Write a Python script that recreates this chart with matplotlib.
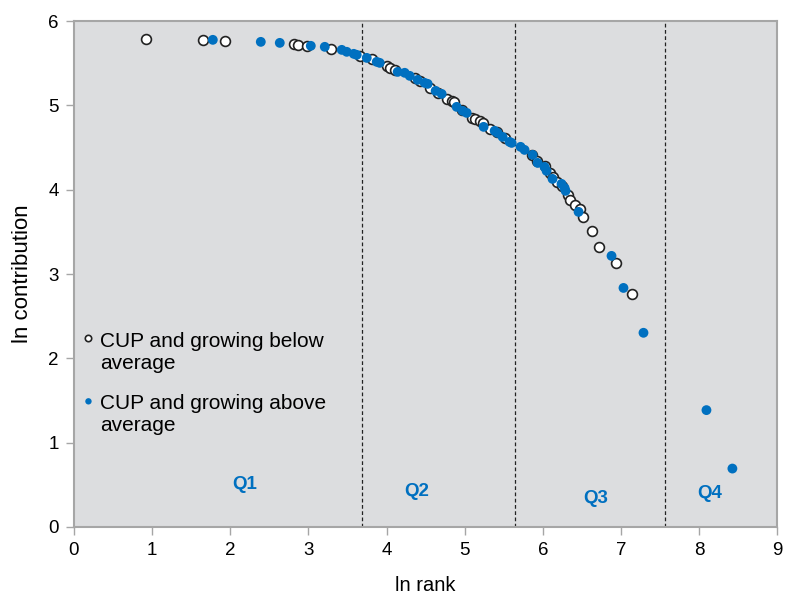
import matplotlib
matplotlib.use('Agg')
import matplotlib.pyplot as plt

plt.rcParams['font.family'] = ['Liberation Sans', 'DejaVu Sans']

# ln rank / ln contribution for CUP growing below average
below_x = [0.921, 1.650, 1.931, 2.813, 2.864, 2.980, 3.286, 3.657, 3.811, 4.003,
           4.041, 4.105, 4.361, 4.425, 4.552, 4.655, 4.770, 4.834, 4.859, 4.962,
           5.090, 5.128, 5.192, 5.230, 5.320, 5.409, 5.512, 5.857, 5.921, 6.023,
           6.087, 6.125, 6.176, 6.240, 6.317, 6.343, 6.407, 6.471, 6.509, 6.624,
           6.726, 6.931, 7.136]
below_y = [5.789, 5.777, 5.765, 5.730, 5.718, 5.706, 5.670, 5.587, 5.552, 5.469,
           5.445, 5.421, 5.326, 5.291, 5.208, 5.148, 5.077, 5.053, 5.042, 4.947,
           4.852, 4.840, 4.816, 4.792, 4.721, 4.686, 4.614, 4.413, 4.342, 4.282,
           4.199, 4.152, 4.093, 4.045, 3.938, 3.879, 3.820, 3.772, 3.677, 3.511,
           3.321, 3.132, 2.764]

# ln rank / ln contribution for CUP growing above average
above_x = [1.777, 2.391, 2.634, 3.031, 3.210, 3.427, 3.491, 3.581, 3.619, 3.747,
           3.875, 3.913, 4.143, 4.233, 4.297, 4.399, 4.488, 4.527, 4.629, 4.706,
           4.898, 4.974, 5.026, 5.243, 5.384, 5.422, 5.486, 5.575, 5.601, 5.716,
           5.767, 5.870, 5.934, 6.023, 6.049, 6.125, 6.240, 6.279, 6.292, 6.458,
           6.880, 7.033, 7.289, 8.095, 8.427]
above_y = [5.777, 5.753, 5.741, 5.706, 5.694, 5.658, 5.635, 5.611, 5.599, 5.563,
           5.516, 5.504, 5.397, 5.386, 5.350, 5.302, 5.267, 5.255, 5.172, 5.136,
           4.982, 4.935, 4.911, 4.745, 4.698, 4.674, 4.626, 4.567, 4.555, 4.508,
           4.472, 4.413, 4.318, 4.270, 4.223, 4.128, 4.069, 4.021, 3.986, 3.737,
           3.215, 2.835, 2.303, 1.386, 0.693]

# quartile boundaries (ln rank) and labels
quart_bounds = [3.68, 5.64, 7.57]
quart_labels = ['Q1', 'Q2', 'Q3', 'Q4']
quart_pos = [(2.19, 0.50), (4.39, 0.42), (6.68, 0.34), (8.13, 0.40)]

blue = '#0070C0'
grey = '#A6A6A6'

fig = plt.figure(figsize=(7.87, 5.94), dpi=100)
ax = fig.add_axes([0.094, 0.1128, 0.8935, 0.8518])
ax.set_facecolor('#DCDDDF')

ax.scatter(below_x, below_y, s=50, facecolor='white', edgecolor='#222222',
           linewidth=1.2, zorder=3, label='CUP and growing below\naverage')
ax.scatter(above_x, above_y, s=50, facecolor=blue, edgecolor='none',
           zorder=4, label='CUP and growing above\naverage')

for b in quart_bounds:
    ax.axvline(b, color='#222222', linestyle=(0, (3, 2)), linewidth=0.9, zorder=2)

for lab, (qx, qy) in zip(quart_labels, quart_pos):
    ax.text(qx, qy, lab, color=blue, fontsize=13.5, fontweight='bold',
            ha='center', va='center', zorder=5)

ax.set_xlim(0, 9)
ax.set_ylim(0, 6)
ax.set_xticks(range(0, 10))
ax.set_yticks(range(0, 7))
ax.tick_params(direction='out', length=6, width=1, color=grey,
               labelsize=13.5, pad=5)
for sp in ax.spines.values():
    sp.set_color(grey)
    sp.set_linewidth(1.5)

ax.set_xlabel('ln rank', fontsize=14.5, labelpad=12)
ax.set_ylabel('ln contribution', fontsize=16, labelpad=11)

# legend markers sit beside the first line of each two-line label
ax.legend(loc='upper left', bbox_to_anchor=(-0.012, 0.415), frameon=False,
          fontsize=15, markerscale=0.65, handletextpad=0.15,
          handlelength=0.8, labelspacing=1.05, borderaxespad=0.3,
          scatteryoffsets=[1.45])

fig.savefig('out.png', dpi=100)
